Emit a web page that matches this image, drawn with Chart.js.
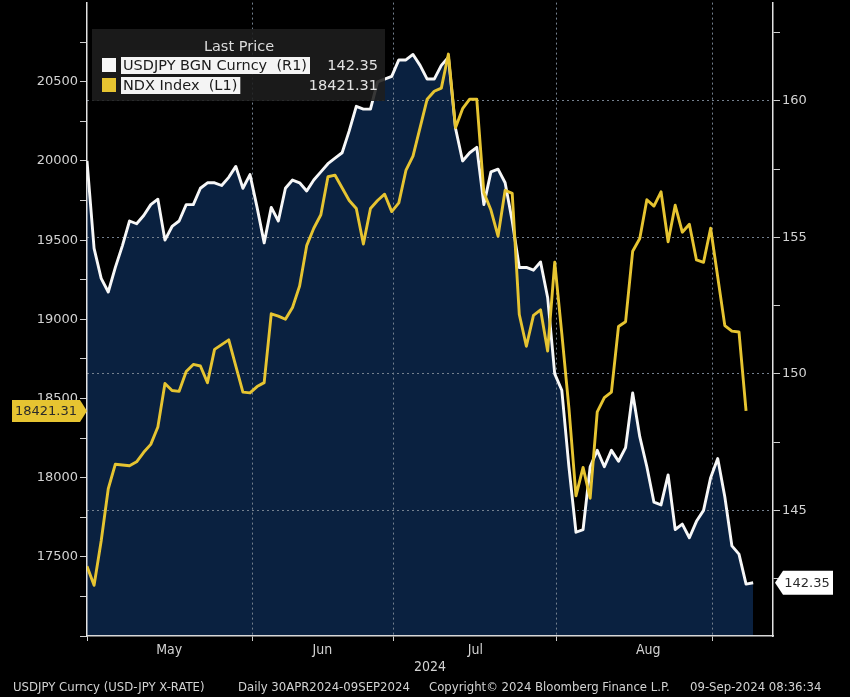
<!DOCTYPE html>
<html>
<head>
<meta charset="utf-8">
<title>USDJPY vs NDX</title>
<script src="https://cdn.jsdelivr.net/npm/chart.js@4.4.1/dist/chart.umd.min.js"></script>
<style>
  html, body { margin: 0; padding: 0; background: #000; }
  #wrap { width: 850px; height: 697px; }
</style>
</head>
<body>
<div id="wrap"><canvas id="fxChart" width="850" height="697"></canvas></div>
<script>
// daily points, 30 Apr 2024 .. 09 Sep 2024 (weekdays)
const tradeDays = []
for (let d = new Date(Date.UTC(2024, 3, 30)); d <= new Date(Date.UTC(2024, 8, 9)); d.setUTCDate(d.getUTCDate() + 1)) {
  const wd = d.getUTCDay()
  if (wd !== 0 && wd !== 6) tradeDays.push(d.toISOString().slice(0, 10))
}

const monthNames = ['May', 'Jun', 'Jul', 'Aug']
const monthLabelAt = [11.6, 33.2, 54.8, 79.2]

// USDJPY BGN Curncy (R1)
const usdjpy = [157.8, 154.6, 153.5, 153.0, 153.9, 154.7, 155.6, 155.5, 155.8, 156.2,
  156.4, 154.9, 155.4, 155.6, 156.2, 156.2, 156.8, 157.0, 157.0, 156.9,
  157.2, 157.6, 156.8, 157.3, 156.1, 154.8, 156.1, 155.6, 156.8, 157.1,
  157.0, 156.7, 157.1, 157.4, 157.7, 157.9, 158.1, 158.9, 159.8, 159.7,
  159.7, 160.7, 160.8, 160.9, 161.5, 161.5, 161.7, 161.3, 160.8, 160.8,
  161.3, 161.6, 159.0, 157.8, 158.1, 158.3, 156.2, 157.4, 157.5, 157.0,
  155.6, 153.9, 153.9, 153.8, 154.1, 152.8, 150.0, 149.4, 146.6, 144.2,
  144.3, 146.6, 147.2, 146.6, 147.2, 146.8, 147.3, 149.3, 147.7, 146.6,
  145.3, 145.2, 146.3, 144.3, 144.5, 144.0, 144.6, 145.0, 146.2, 146.9,
  145.5, 143.7, 143.4, 142.3, 142.35]

// NDX Index (L1), null = US holiday
const ndx = [17440, 17320, 17600, 17930, 18085, 18080, 18075, 18100, 18160, 18210,
  18320, 18595, 18550, 18545, 18670, 18715, 18705, 18600, 18810, null,
  18870, 18705, 18540, 18535, 18575, 18600, 19035, 19020, 19000, 19075,
  19210, 19465, 19575, 19660, 19900, 19910, null, 19750, 19700, 19475,
  19700, 19750, 19790, 19680, 19735, 19940, 20030, null, 20390, 20440,
  20460, 20675, 20210, 20330, 20390, 20390, 19800, 19690, 19525, 19815,
  19795, 19030, 18830, 19025, 19060, 18800, 19360, 18910, 18440, 17885,
  18065, 17870, 18415, 18505, 18540, 18955, 18985, 19430, 19510, 19755,
  19715, 19805, 19490, 19720, 19550, 19600, 19375, 19360, 19575, null,
  18960, 18925, 18920, 18421.31]

const leftTickLabels = [17500, 18000, 18500, 19000, 19500, 20000, 20500]
const rightTickLabels = [145, 150, 155, 160]

const WHITE = '#f7f7f7'
const YELLOW = '#e6c431'
const NAVY = '#0a2140'
const GRID = '#74808e'
const TEXT = '#d2d2d2'
const CONDENSED = '"DejaVu Sans Condensed", "Liberation Sans Narrow", sans-serif'

// month boundaries sit just before the first trading day of each month
const boundaries = [0]
for (let i = 1; i < tradeDays.length; i++) {
  if (i > 1 && tradeDays[i].slice(5, 7) !== tradeDays[i - 1].slice(5, 7)) boundaries.push(i - 0.7)
}
const xTicks = boundaries.concat(monthLabelAt).sort((a, b) => a - b)
const labelMap = new Map(monthLabelAt.map((v, i) => [v, monthNames[i]]))

const steps = (from, to, step) => {
  const out = []
  for (let v = from; v <= to + 1e-9; v += step) out.push(Math.round(v * 100) / 100)
  return out
}

const overlay = {
  id: 'overlay',
  afterDraw (chart) {
    const { ctx, chartArea: a, scales } = chart
    ctx.save()

    // legend box
    ctx.fillStyle = 'rgba(30,30,30,0.88)'
    ctx.fillRect(92, 29, 293, 72)
    ctx.font = '14.5px "DejaVu Sans", sans-serif'
    ctx.fillStyle = '#dcdcdc'
    ctx.textAlign = 'center'
    ctx.textBaseline = 'middle'
    ctx.fillText('Last Price', 239, 47)
    const rows = [
      { name: 'USDJPY BGN Curncy  (R1)', val: usdjpy[usdjpy.length - 1].toFixed(2), color: WHITE, y: 65 },
      { name: 'NDX Index  (L1)', val: ndx[ndx.length - 1].toFixed(2), color: YELLOW, y: 85 }
    ]
    rows.forEach(r => {
      ctx.fillStyle = r.color
      ctx.fillRect(102, r.y - 7, 14, 14)
      const w = Math.min(ctx.measureText(r.name).width, 184)
      ctx.fillStyle = '#f4f4f4'
      ctx.fillRect(121, r.y - 8, w + 5, 17)
      ctx.fillStyle = '#1b1b1b'
      ctx.textAlign = 'left'
      ctx.fillText(r.name, 123, r.y + 1, 184)
      ctx.fillStyle = '#e2e2e2'
      ctx.textAlign = 'right'
      ctx.fillText(r.val, 378, r.y + 1)
    })

    // last value tags on the axes
    ctx.font = '13px "DejaVu Sans", sans-serif'
    ctx.textAlign = 'center'
    const yl = scales.yL.getPixelForValue(ndx[ndx.length - 1])
    ctx.fillStyle = YELLOW
    ctx.beginPath()
    ctx.moveTo(12, yl - 11); ctx.lineTo(80, yl - 11); ctx.lineTo(87, yl)
    ctx.lineTo(80, yl + 11); ctx.lineTo(12, yl + 11); ctx.closePath()
    ctx.fill()
    ctx.fillStyle = '#2a2a2a'
    ctx.fillText(ndx[ndx.length - 1].toFixed(2), 46, yl + 1)

    const yr = scales.yR.getPixelForValue(usdjpy[usdjpy.length - 1])
    ctx.fillStyle = '#ffffff'
    ctx.beginPath()
    ctx.moveTo(775, yr); ctx.lineTo(783, yr - 12); ctx.lineTo(833, yr - 12)
    ctx.lineTo(833, yr + 12); ctx.lineTo(783, yr + 12); ctx.closePath()
    ctx.fill()
    ctx.fillStyle = '#2a2a2a'
    ctx.fillText(usdjpy[usdjpy.length - 1].toFixed(2), 807, yr + 1)

    // year + footer
    ctx.font = '14px ' + CONDENSED
    ctx.fillStyle = TEXT
    ctx.fillText('2024', (a.left + a.right) / 2, 667)
    ctx.font = '13px ' + CONDENSED
    ctx.textAlign = 'left'
    ctx.fillText('USDJPY Curncy (USD-JPY X-RATE)', 13, 688, 212)
    ctx.fillText('Daily 30APR2024-09SEP2024', 238, 688, 175)
    ctx.fillText('Copyright\u00A9 2024 Bloomberg Finance L.P.', 429, 688, 244)
    ctx.fillText('09-Sep-2024 08:36:34', 690, 688, 138)
    ctx.restore()
  }
}

const ctx = document.getElementById('fxChart')
const fxChart = new Chart(ctx, {
  type: 'line',
  data: {
    datasets: [{
      label: 'NDX Index (L1)',
      data: ndx.map((v, i) => ({ x: i, y: v })),
      yAxisID: 'yL',
      borderColor: YELLOW,
      borderWidth: 2.9,
      borderJoinStyle: 'round',
      pointRadius: 0,
      spanGaps: true,
      fill: false
    }, {
      label: 'USDJPY BGN Curncy (R1)',
      data: usdjpy.map((v, i) => ({ x: i, y: v })),
      yAxisID: 'yR',
      borderColor: WHITE,
      borderWidth: 2.9,
      borderJoinStyle: 'round',
      pointRadius: 0,
      fill: 'start',
      backgroundColor: NAVY
    }]
  },
  options: {
    responsive: false,
    animation: false,
    layout: { padding: 0 },
    plugins: {
      legend: { display: false },
      tooltip: { enabled: false },
      filler: { drawTime: 'beforeDraw' }
    },
    scales: {
      x: {
        type: 'linear',
        min: 0,
        max: 96.8,
        afterBuildTicks: s => { s.ticks = xTicks.map(v => ({ value: v })) },
        afterFit: s => { s.height = 61 },
        ticks: {
          autoSkip: false,
          maxRotation: 0,
          padding: 1,
          color: TEXT,
          font: { family: CONDENSED, size: 14 },
          callback: v => labelMap.get(v) || ''
        },
        grid: {
          color: c => (c.tick && boundaries.includes(c.tick.value) && c.tick.value > 0) ? GRID : 'transparent',
          tickColor: c => (c.tick && boundaries.includes(c.tick.value)) ? '#cfcfcf' : 'transparent',
          tickLength: 5,
          lineWidth: 1
        },
        border: { color: '#d8d8d8', width: 1.5, dash: [2, 3] }
      },
      yL: {
        position: 'left',
        min: 17000,
        max: 21000,
        afterBuildTicks: s => { s.ticks = steps(17000, 20750, 250).map(v => ({ value: v })) },
        afterFit: s => { s.width = 87 },
        ticks: {
          autoSkip: false,
          padding: 2,
          color: TEXT,
          font: c => ({ family: '"DejaVu Sans", sans-serif', size: (c.tick && leftTickLabels.includes(c.tick.value)) ? 13 : 1 }),
          callback: v => leftTickLabels.includes(v) ? String(v) : ''
        },
        grid: { drawOnChartArea: false, tickLength: 7, tickColor: '#cfcfcf' },
        border: { color: '#e2e2e2', width: 1.5 }
      },
      yR: {
        position: 'right',
        min: 140.4,
        max: 163.6,
        afterBuildTicks: s => { s.ticks = steps(142.5, 162.5, 2.5).map(v => ({ value: v })) },
        afterFit: s => { s.width = 77 },
        ticks: {
          autoSkip: false,
          padding: 2,
          color: TEXT,
          font: c => ({ family: '"DejaVu Sans", sans-serif', size: (c.tick && rightTickLabels.includes(c.tick.value)) ? 13 : 1 }),
          callback: v => rightTickLabels.includes(v) ? String(v) : ''
        },
        grid: {
          color: c => (c.tick && rightTickLabels.includes(c.tick.value)) ? GRID : 'transparent',
          tickColor: '#cfcfcf',
          tickLength: 7,
          lineWidth: 1
        },
        border: { color: '#e2e2e2', width: 1.5, dash: [2, 3] }
      }
    }
  },
  plugins: [overlay]
})
</script>
</body>
</html>
